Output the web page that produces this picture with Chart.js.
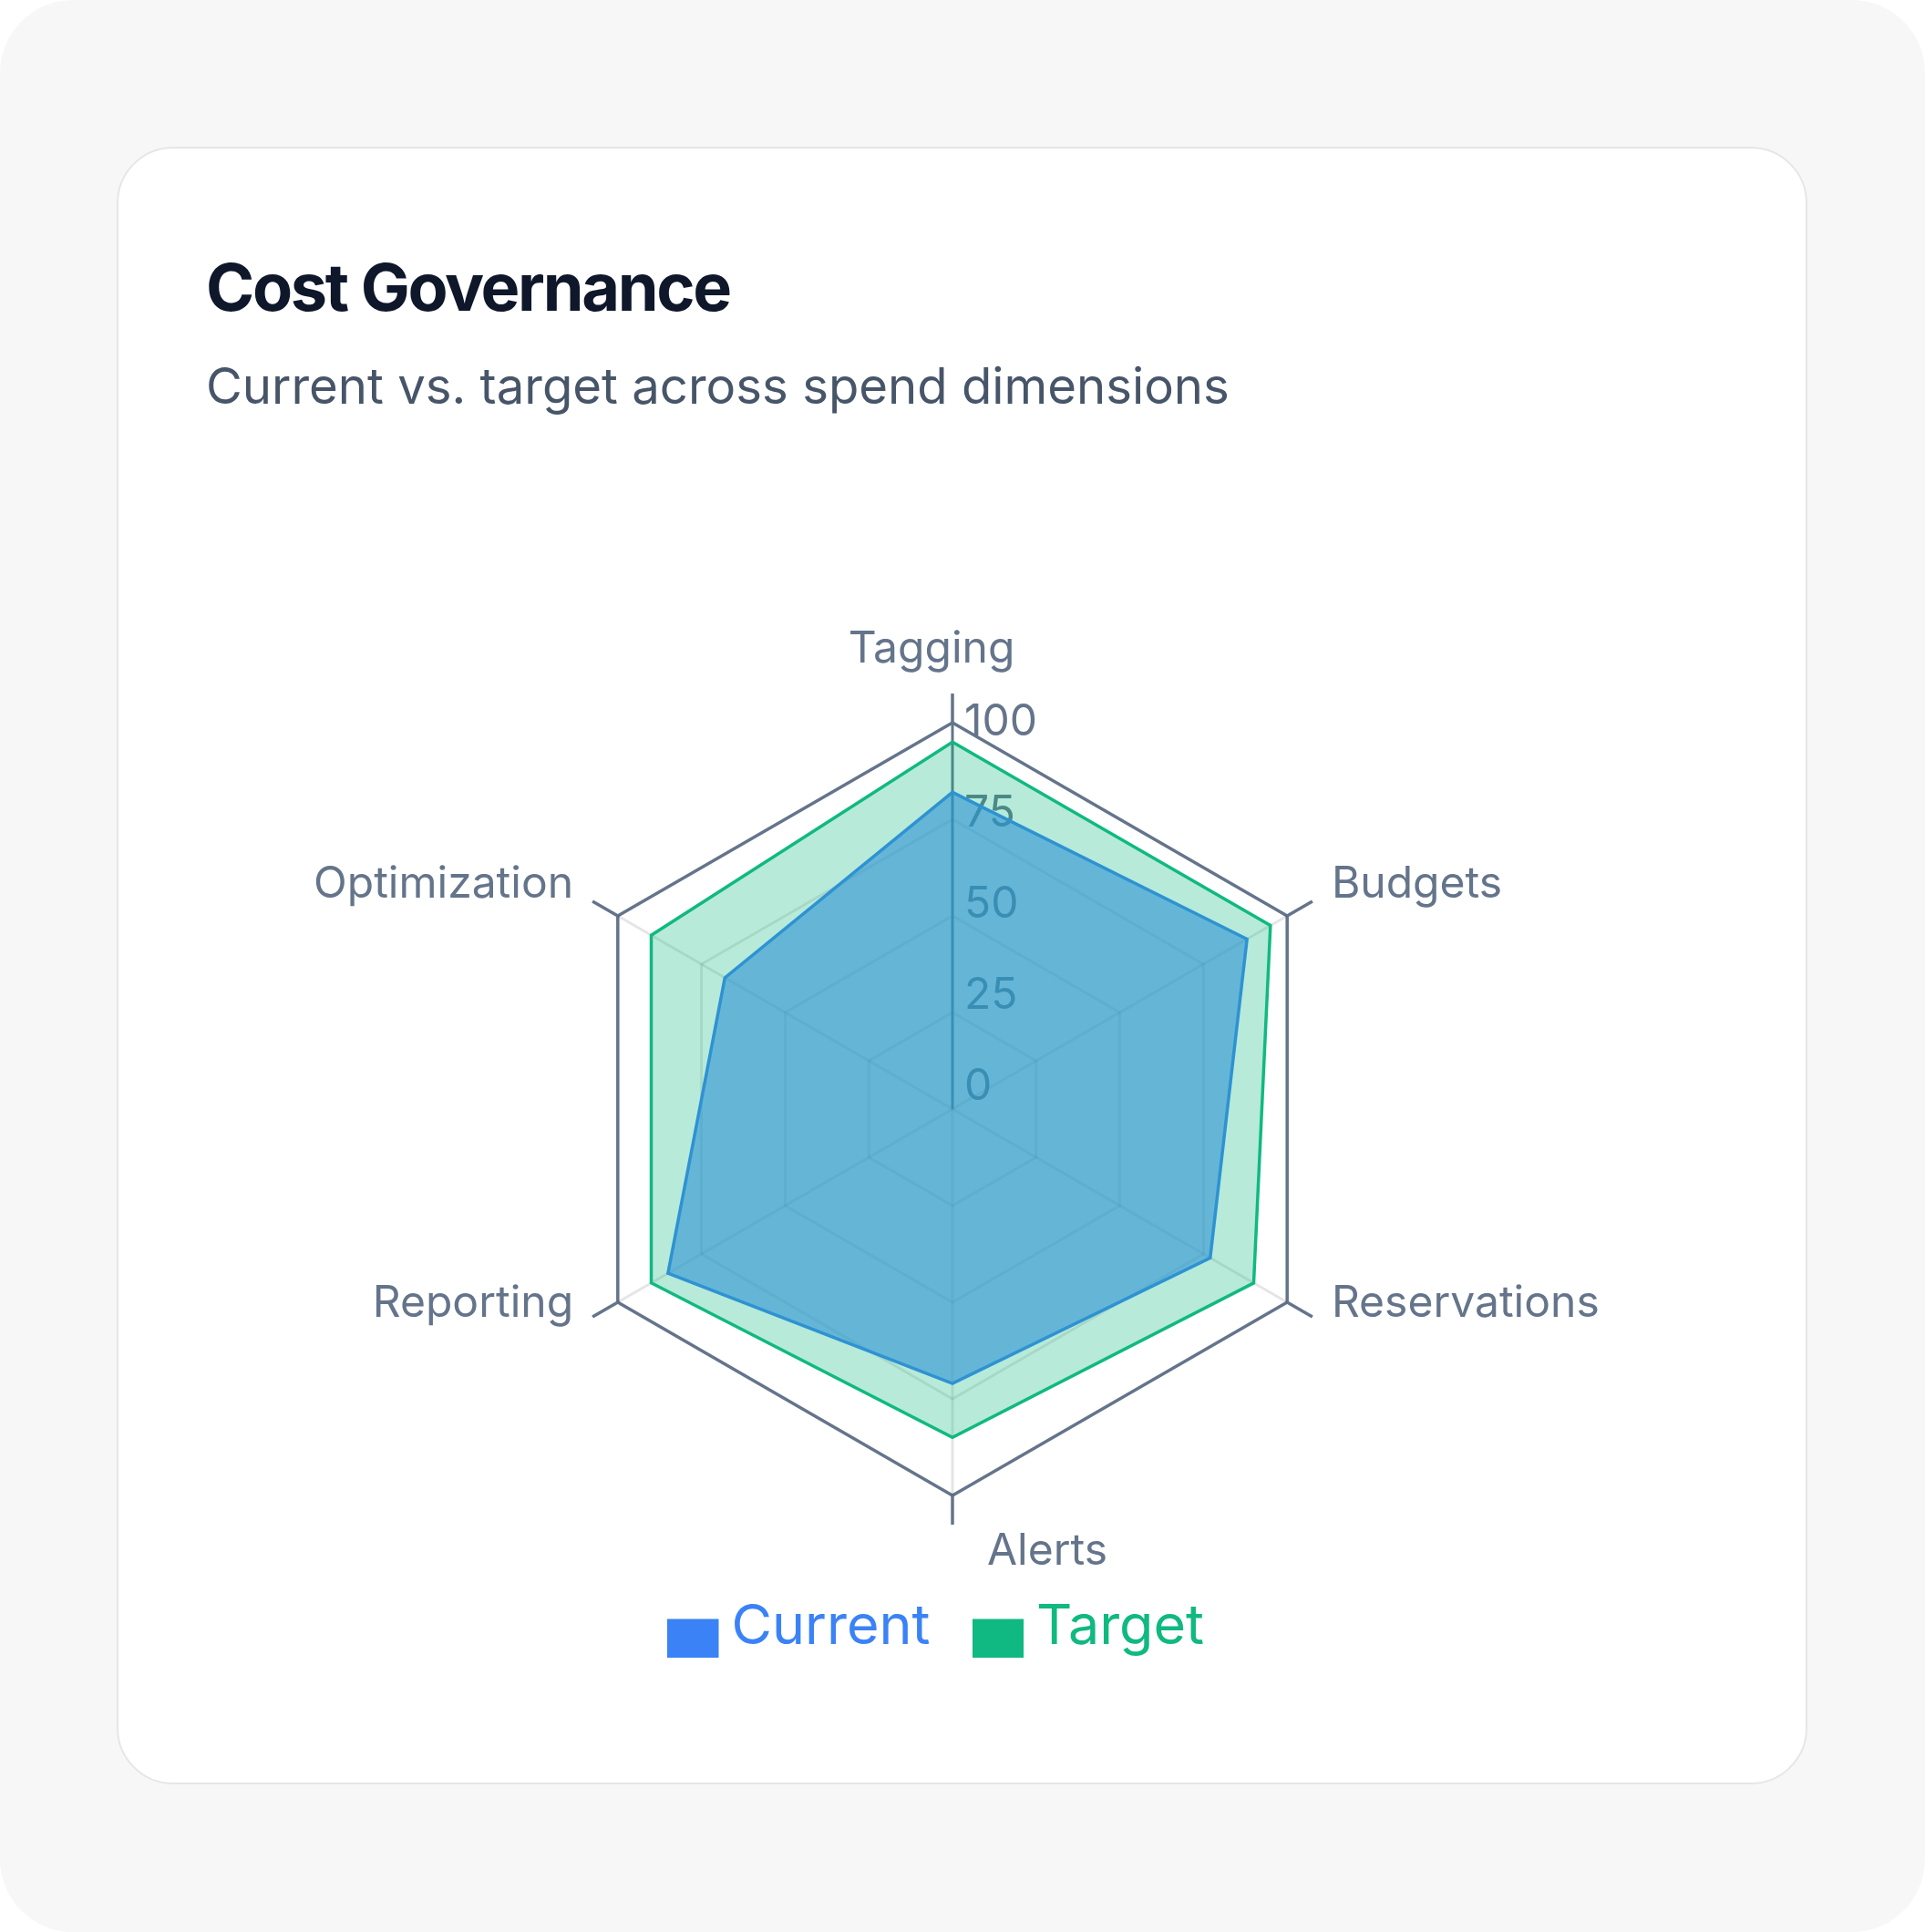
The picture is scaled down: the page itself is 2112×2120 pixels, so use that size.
<!DOCTYPE html>
<html lang="en">
<head>
<meta charset="UTF-8">
<title>Cost Governance</title>
<script src="https://cdn.jsdelivr.net/npm/chart.js@4.4.1/dist/chart.umd.min.js"></script>
<style>
  html, body { margin: 0; padding: 0; background: #ffffff; }
  body { width: 2112px; height: 2120px; font-family: Inter, 'Noto Sans', sans-serif; }
  .frame {
    position: relative;
    width: 2112px;
    height: 2120px;
    background: #f7f7f7;
    border-radius: 80px;
    overflow: hidden;
  }
  .card {
    position: absolute;
    left: 128px;
    top: 161px;
    width: 1855px;
    height: 1797px;
    box-sizing: border-box;
    background: #ffffff;
    border: 2px solid #e6e6e6;
    border-radius: 62px;
  }
  .card h1 {
    position: absolute;
    left: 96px;
    top: 116px;
    margin: 0;
    font-size: 72px;
    line-height: 72px;
    font-weight: 700;
    color: #0f172a;
    letter-spacing: -2.3px;
    white-space: nowrap;
  }
  .card .subtitle {
    position: absolute;
    left: 96px;
    top: 233px;
    margin: 0;
    font-size: 54.5px;
    line-height: 55px;
    color: #475569;
    white-space: nowrap;
  }
  .chart-box {
    position: absolute;
    left: 205px;
    top: 500px;
    width: 1680px;
    height: 1400px;
  }
</style>
</head>
<body>
<div class="frame">
  <div class="card">
    <h1>Cost Governance</h1>
    <p class="subtitle">Current vs. target across spend dimensions</p>
  </div>
  <div class="chart-box"><canvas id="radar"></canvas></div>
</div>

<script>
// data
const categories = ['Tagging', 'Budgets', 'Reservations', 'Alerts', 'Reporting', 'Optimization'];
const currentValues = [82, 88, 77, 71, 85, 68];
const targetValues = [95, 95, 90, 85, 90, 90];
const tickValues = [0, 25, 50, 75, 100];

const SLATE = '#64748b';
const LIGHT = 'rgba(0, 0, 0, 0.1)';
const BLUE = '#3b82f6';
const GREEN = '#10b981';
const TICK_LEN = 32;
const LABEL_FONT = '48px Inter';

// legend swatch: square on the left of the image, sitting a bit below the text middle
function swatch(color) {
  const c = document.createElement('canvas');
  c.width = 76;
  c.height = 66;
  const g = c.getContext('2d');
  g.fillStyle = color;
  g.fillRect(0, 24, 56, 42);
  return c;
}

// outer ticks, value labels and category labels, drawn under the datasets
const radarExtras = {
  id: 'radarExtras',
  beforeDatasetsDraw(chart) {
    const scale = chart.scales.r;
    const ctx = chart.ctx;
    const outer = scale.getDistanceFromCenterForValue(scale.max);
    ctx.save();

    ctx.strokeStyle = SLATE;
    ctx.lineWidth = 3.5;
    categories.forEach((c, i) => {
      const a = scale.getPointPosition(i, outer);
      const b = scale.getPointPosition(i, outer + TICK_LEN);
      ctx.beginPath();
      ctx.moveTo(a.x, a.y);
      ctx.lineTo(b.x, b.y);
      ctx.stroke();
    });

    ctx.font = LABEL_FONT;
    ctx.fillStyle = SLATE;
    ctx.textAlign = 'left';
    ctx.textBaseline = 'middle';
    tickValues.forEach(v => {
      const d = scale.getDistanceFromCenterForValue(v) * 0.945 + 24;
      const p = scale.getPointPosition(0, d);
      ctx.fillText(String(v), p.x + 13, p.y);
    });

    ctx.textBaseline = 'alphabetic';
    categories.forEach((label, i) => {
      const p = scale.getPointPosition(i, outer + TICK_LEN);
      const dx = p.x - scale.xCenter;
      const dy = p.y - scale.yCenter;
      let x = p.x, y = p.y;
      if (Math.abs(dx) < 1) {
        if (dy < 0) { ctx.textAlign = 'center'; x -= 23; y -= 34; }
        else { ctx.textAlign = 'left'; x += 38; y += 44; }
      } else {
        ctx.textAlign = dx > 0 ? 'left' : 'right';
        x += dx > 0 ? 21 : -21;
        y += dy < 0 ? -4 : 0;
      }
      ctx.fillText(label, x, y);
    });

    ctx.restore();
  }
};

Chart.defaults.font.family = 'Inter';

new Chart(document.getElementById('radar'), {
  type: 'radar',
  data: {
    labels: categories,
    datasets: [
      {
        label: 'Current',
        data: currentValues,
        borderColor: BLUE,
        backgroundColor: 'rgba(59, 130, 246, 0.6)',
        borderWidth: 3.5,
        pointRadius: 0,
        fill: true,
        order: 2
      },
      {
        label: 'Target',
        data: targetValues,
        borderColor: GREEN,
        backgroundColor: 'rgba(16, 185, 129, 0.3)',
        borderWidth: 3.5,
        pointRadius: 0,
        fill: true,
        order: 1
      }
    ]
  },
  options: {
    responsive: true,
    maintainAspectRatio: false,
    animation: false,
    layout: { padding: { left: 416, right: 416, top: 263, bottom: 74 } },
    scales: {
      r: {
        min: 0,
        max: 100,
        ticks: { display: false, stepSize: 25 },
        pointLabels: { display: false },
        grid: {
          color: c => (c.tick && c.tick.value === 100 ? SLATE : LIGHT),
          lineWidth: c => (c.tick && c.tick.value === 100 ? 3.5 : 3)
        },
        angleLines: {
          color: c => (c.index === 0 ? SLATE : LIGHT),
          lineWidth: 3
        }
      }
    },
    plugins: {
      tooltip: { enabled: false },
      legend: {
        position: 'bottom',
        labels: {
          usePointStyle: true,
          pointStyleWidth: 3,
          boxHeight: 42,
          padding: 83,
          font: { size: 61, family: 'Inter' },
          generateLabels: chart => chart.data.datasets.map((ds, i) => ({
            text: ds.label,
            fillStyle: ds.borderColor,
            strokeStyle: ds.borderColor,
            lineWidth: 0,
            pointStyle: swatch(ds.borderColor),
            fontColor: ds.borderColor,
            hidden: !chart.isDatasetVisible(i),
            datasetIndex: i
          }))
        }
      }
    }
  },
  plugins: [radarExtras]
});
</script>
</body>
</html>
